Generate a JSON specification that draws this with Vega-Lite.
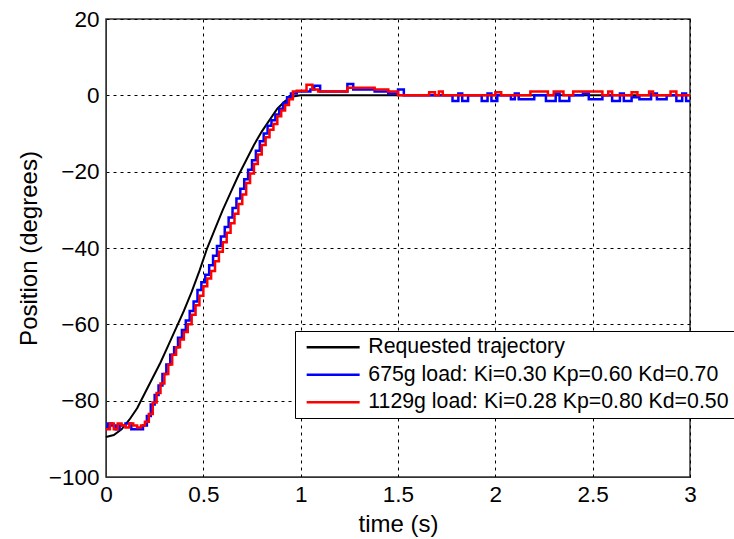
{
  "$schema": "https://vega.github.io/schema/vega-lite/v6.json",
  "width": 584,
  "height": 458,
  "autosize": {"type": "none"},
  "padding": {"left": 106, "top": 19, "right": 44, "bottom": 62},
  "background": "white",
  "config": {
    "font": "Liberation Sans",
    "view": {"stroke": "#333333", "strokeWidth": 1.5},
    "axis": {
      "labelFont": "Liberation Sans",
      "titleFont": "Liberation Sans",
      "labelFontSize": 22.5,
      "titleFontSize": 24,
      "labelColor": "#000000",
      "titleColor": "#000000",
      "titleFontWeight": "normal",
      "grid": true,
      "gridColor": "#000000",
      "gridDash": [3, 4],
      "gridOpacity": 1,
      "gridWidth": 1,
      "domainColor": "#333333",
      "tickColor": "#333333",
      "tickSize": 0
    }
  },
  "data": {
    "values": [
      {"t": 0, "v": -89.5, "s": "Requested trajectory"},
      {"t": 0.04, "v": -89, "s": "Requested trajectory"},
      {"t": 0.08, "v": -87.5, "s": "Requested trajectory"},
      {"t": 0.12, "v": -85, "s": "Requested trajectory"},
      {"t": 0.16, "v": -82, "s": "Requested trajectory"},
      {"t": 0.2, "v": -78, "s": "Requested trajectory"},
      {"t": 0.24, "v": -74, "s": "Requested trajectory"},
      {"t": 0.28, "v": -70, "s": "Requested trajectory"},
      {"t": 0.32, "v": -65.5, "s": "Requested trajectory"},
      {"t": 0.36, "v": -61, "s": "Requested trajectory"},
      {"t": 0.4, "v": -56.5, "s": "Requested trajectory"},
      {"t": 0.44, "v": -51.5, "s": "Requested trajectory"},
      {"t": 0.48, "v": -46, "s": "Requested trajectory"},
      {"t": 0.52, "v": -40, "s": "Requested trajectory"},
      {"t": 0.56, "v": -35, "s": "Requested trajectory"},
      {"t": 0.6, "v": -30, "s": "Requested trajectory"},
      {"t": 0.64, "v": -25.5, "s": "Requested trajectory"},
      {"t": 0.68, "v": -21, "s": "Requested trajectory"},
      {"t": 0.72, "v": -17, "s": "Requested trajectory"},
      {"t": 0.76, "v": -13, "s": "Requested trajectory"},
      {"t": 0.8, "v": -9.5, "s": "Requested trajectory"},
      {"t": 0.84, "v": -6.5, "s": "Requested trajectory"},
      {"t": 0.88, "v": -3.5, "s": "Requested trajectory"},
      {"t": 0.92, "v": -1.5, "s": "Requested trajectory"},
      {"t": 0.96, "v": -0.3, "s": "Requested trajectory"},
      {"t": 1.0, "v": 0, "s": "Requested trajectory"},
      {"t": 3.0, "v": 0, "s": "Requested trajectory"},

      {"t": 0, "v": -87, "s": " 675g load: Ki=0.30 Kp=0.60 Kd=0.70"},
      {"t": 0.01, "v": -86, "s": " 675g load: Ki=0.30 Kp=0.60 Kd=0.70"},
      {"t": 0.03, "v": -86.5, "s": " 675g load: Ki=0.30 Kp=0.60 Kd=0.70"},
      {"t": 0.05, "v": -87.5, "s": " 675g load: Ki=0.30 Kp=0.60 Kd=0.70"},
      {"t": 0.07, "v": -86.5, "s": " 675g load: Ki=0.30 Kp=0.60 Kd=0.70"},
      {"t": 0.1, "v": -86, "s": " 675g load: Ki=0.30 Kp=0.60 Kd=0.70"},
      {"t": 0.13, "v": -87.5, "s": " 675g load: Ki=0.30 Kp=0.60 Kd=0.70"},
      {"t": 0.16, "v": -87.5, "s": " 675g load: Ki=0.30 Kp=0.60 Kd=0.70"},
      {"t": 0.19, "v": -86.5, "s": " 675g load: Ki=0.30 Kp=0.60 Kd=0.70"},
      {"t": 0.21, "v": -84, "s": " 675g load: Ki=0.30 Kp=0.60 Kd=0.70"},
      {"t": 0.23, "v": -81, "s": " 675g load: Ki=0.30 Kp=0.60 Kd=0.70"},
      {"t": 0.25, "v": -78.5, "s": " 675g load: Ki=0.30 Kp=0.60 Kd=0.70"},
      {"t": 0.27, "v": -76, "s": " 675g load: Ki=0.30 Kp=0.60 Kd=0.70"},
      {"t": 0.29, "v": -73, "s": " 675g load: Ki=0.30 Kp=0.60 Kd=0.70"},
      {"t": 0.31, "v": -70.5, "s": " 675g load: Ki=0.30 Kp=0.60 Kd=0.70"},
      {"t": 0.33, "v": -68, "s": " 675g load: Ki=0.30 Kp=0.60 Kd=0.70"},
      {"t": 0.35, "v": -66, "s": " 675g load: Ki=0.30 Kp=0.60 Kd=0.70"},
      {"t": 0.37, "v": -63.5, "s": " 675g load: Ki=0.30 Kp=0.60 Kd=0.70"},
      {"t": 0.39, "v": -61.5, "s": " 675g load: Ki=0.30 Kp=0.60 Kd=0.70"},
      {"t": 0.41, "v": -59, "s": " 675g load: Ki=0.30 Kp=0.60 Kd=0.70"},
      {"t": 0.43, "v": -56.5, "s": " 675g load: Ki=0.30 Kp=0.60 Kd=0.70"},
      {"t": 0.45, "v": -54, "s": " 675g load: Ki=0.30 Kp=0.60 Kd=0.70"},
      {"t": 0.47, "v": -51, "s": " 675g load: Ki=0.30 Kp=0.60 Kd=0.70"},
      {"t": 0.49, "v": -49, "s": " 675g load: Ki=0.30 Kp=0.60 Kd=0.70"},
      {"t": 0.51, "v": -47, "s": " 675g load: Ki=0.30 Kp=0.60 Kd=0.70"},
      {"t": 0.53, "v": -44.5, "s": " 675g load: Ki=0.30 Kp=0.60 Kd=0.70"},
      {"t": 0.55, "v": -42, "s": " 675g load: Ki=0.30 Kp=0.60 Kd=0.70"},
      {"t": 0.57, "v": -39.5, "s": " 675g load: Ki=0.30 Kp=0.60 Kd=0.70"},
      {"t": 0.59, "v": -37, "s": " 675g load: Ki=0.30 Kp=0.60 Kd=0.70"},
      {"t": 0.61, "v": -34.5, "s": " 675g load: Ki=0.30 Kp=0.60 Kd=0.70"},
      {"t": 0.63, "v": -32, "s": " 675g load: Ki=0.30 Kp=0.60 Kd=0.70"},
      {"t": 0.65, "v": -29.5, "s": " 675g load: Ki=0.30 Kp=0.60 Kd=0.70"},
      {"t": 0.67, "v": -27, "s": " 675g load: Ki=0.30 Kp=0.60 Kd=0.70"},
      {"t": 0.69, "v": -24.5, "s": " 675g load: Ki=0.30 Kp=0.60 Kd=0.70"},
      {"t": 0.71, "v": -22, "s": " 675g load: Ki=0.30 Kp=0.60 Kd=0.70"},
      {"t": 0.73, "v": -19.5, "s": " 675g load: Ki=0.30 Kp=0.60 Kd=0.70"},
      {"t": 0.75, "v": -17, "s": " 675g load: Ki=0.30 Kp=0.60 Kd=0.70"},
      {"t": 0.77, "v": -14.5, "s": " 675g load: Ki=0.30 Kp=0.60 Kd=0.70"},
      {"t": 0.79, "v": -12, "s": " 675g load: Ki=0.30 Kp=0.60 Kd=0.70"},
      {"t": 0.81, "v": -10, "s": " 675g load: Ki=0.30 Kp=0.60 Kd=0.70"},
      {"t": 0.83, "v": -8, "s": " 675g load: Ki=0.30 Kp=0.60 Kd=0.70"},
      {"t": 0.85, "v": -6.5, "s": " 675g load: Ki=0.30 Kp=0.60 Kd=0.70"},
      {"t": 0.87, "v": -5, "s": " 675g load: Ki=0.30 Kp=0.60 Kd=0.70"},
      {"t": 0.89, "v": -3.5, "s": " 675g load: Ki=0.30 Kp=0.60 Kd=0.70"},
      {"t": 0.91, "v": -2, "s": " 675g load: Ki=0.30 Kp=0.60 Kd=0.70"},
      {"t": 0.93, "v": -0.5, "s": " 675g load: Ki=0.30 Kp=0.60 Kd=0.70"},
      {"t": 0.95, "v": 0.5, "s": " 675g load: Ki=0.30 Kp=0.60 Kd=0.70"},
      {"t": 0.98, "v": 1, "s": " 675g load: Ki=0.30 Kp=0.60 Kd=0.70"},
      {"t": 1.05, "v": 1.5, "s": " 675g load: Ki=0.30 Kp=0.60 Kd=0.70"},
      {"t": 1.07, "v": 2.5, "s": " 675g load: Ki=0.30 Kp=0.60 Kd=0.70"},
      {"t": 1.1, "v": 1, "s": " 675g load: Ki=0.30 Kp=0.60 Kd=0.70"},
      {"t": 1.24, "v": 3, "s": " 675g load: Ki=0.30 Kp=0.60 Kd=0.70"},
      {"t": 1.27, "v": 1.5, "s": " 675g load: Ki=0.30 Kp=0.60 Kd=0.70"},
      {"t": 1.38, "v": 1, "s": " 675g load: Ki=0.30 Kp=0.60 Kd=0.70"},
      {"t": 1.45, "v": 0.5, "s": " 675g load: Ki=0.30 Kp=0.60 Kd=0.70"},
      {"t": 1.5, "v": 1.5, "s": " 675g load: Ki=0.30 Kp=0.60 Kd=0.70"},
      {"t": 1.53, "v": 0, "s": " 675g load: Ki=0.30 Kp=0.60 Kd=0.70"},
      {"t": 1.78, "v": -1.5, "s": " 675g load: Ki=0.30 Kp=0.60 Kd=0.70"},
      {"t": 1.81, "v": 0.5, "s": " 675g load: Ki=0.30 Kp=0.60 Kd=0.70"},
      {"t": 1.83, "v": -1.5, "s": " 675g load: Ki=0.30 Kp=0.60 Kd=0.70"},
      {"t": 1.86, "v": 0, "s": " 675g load: Ki=0.30 Kp=0.60 Kd=0.70"},
      {"t": 1.93, "v": -1.5, "s": " 675g load: Ki=0.30 Kp=0.60 Kd=0.70"},
      {"t": 1.96, "v": 0.5, "s": " 675g load: Ki=0.30 Kp=0.60 Kd=0.70"},
      {"t": 1.98, "v": -1.5, "s": " 675g load: Ki=0.30 Kp=0.60 Kd=0.70"},
      {"t": 2.01, "v": 0, "s": " 675g load: Ki=0.30 Kp=0.60 Kd=0.70"},
      {"t": 2.08, "v": -1, "s": " 675g load: Ki=0.30 Kp=0.60 Kd=0.70"},
      {"t": 2.1, "v": 0.5, "s": " 675g load: Ki=0.30 Kp=0.60 Kd=0.70"},
      {"t": 2.12, "v": -1, "s": " 675g load: Ki=0.30 Kp=0.60 Kd=0.70"},
      {"t": 2.2, "v": 0, "s": " 675g load: Ki=0.30 Kp=0.60 Kd=0.70"},
      {"t": 2.26, "v": -1.5, "s": " 675g load: Ki=0.30 Kp=0.60 Kd=0.70"},
      {"t": 2.31, "v": 0.5, "s": " 675g load: Ki=0.30 Kp=0.60 Kd=0.70"},
      {"t": 2.33, "v": -1.5, "s": " 675g load: Ki=0.30 Kp=0.60 Kd=0.70"},
      {"t": 2.38, "v": 0, "s": " 675g load: Ki=0.30 Kp=0.60 Kd=0.70"},
      {"t": 2.45, "v": 0.5, "s": " 675g load: Ki=0.30 Kp=0.60 Kd=0.70"},
      {"t": 2.48, "v": -1, "s": " 675g load: Ki=0.30 Kp=0.60 Kd=0.70"},
      {"t": 2.55, "v": 0, "s": " 675g load: Ki=0.30 Kp=0.60 Kd=0.70"},
      {"t": 2.6, "v": -1.5, "s": " 675g load: Ki=0.30 Kp=0.60 Kd=0.70"},
      {"t": 2.64, "v": 0.5, "s": " 675g load: Ki=0.30 Kp=0.60 Kd=0.70"},
      {"t": 2.66, "v": -1.5, "s": " 675g load: Ki=0.30 Kp=0.60 Kd=0.70"},
      {"t": 2.7, "v": -0.5, "s": " 675g load: Ki=0.30 Kp=0.60 Kd=0.70"},
      {"t": 2.74, "v": -1, "s": " 675g load: Ki=0.30 Kp=0.60 Kd=0.70"},
      {"t": 2.8, "v": 0.5, "s": " 675g load: Ki=0.30 Kp=0.60 Kd=0.70"},
      {"t": 2.83, "v": -1, "s": " 675g load: Ki=0.30 Kp=0.60 Kd=0.70"},
      {"t": 2.88, "v": 0, "s": " 675g load: Ki=0.30 Kp=0.60 Kd=0.70"},
      {"t": 2.93, "v": -1.5, "s": " 675g load: Ki=0.30 Kp=0.60 Kd=0.70"},
      {"t": 2.96, "v": 0.5, "s": " 675g load: Ki=0.30 Kp=0.60 Kd=0.70"},
      {"t": 2.98, "v": -1.5, "s": " 675g load: Ki=0.30 Kp=0.60 Kd=0.70"},
      {"t": 3.0, "v": -1.5, "s": " 675g load: Ki=0.30 Kp=0.60 Kd=0.70"},

      {"t": 0, "v": -87.5, "s": "1129g load: Ki=0.28 Kp=0.80 Kd=0.50"},
      {"t": 0.02, "v": -86, "s": "1129g load: Ki=0.28 Kp=0.80 Kd=0.50"},
      {"t": 0.04, "v": -87.5, "s": "1129g load: Ki=0.28 Kp=0.80 Kd=0.50"},
      {"t": 0.06, "v": -86, "s": "1129g load: Ki=0.28 Kp=0.80 Kd=0.50"},
      {"t": 0.08, "v": -86.5, "s": "1129g load: Ki=0.28 Kp=0.80 Kd=0.50"},
      {"t": 0.1, "v": -87, "s": "1129g load: Ki=0.28 Kp=0.80 Kd=0.50"},
      {"t": 0.12, "v": -86, "s": "1129g load: Ki=0.28 Kp=0.80 Kd=0.50"},
      {"t": 0.14, "v": -86.5, "s": "1129g load: Ki=0.28 Kp=0.80 Kd=0.50"},
      {"t": 0.16, "v": -87, "s": "1129g load: Ki=0.28 Kp=0.80 Kd=0.50"},
      {"t": 0.18, "v": -86.5, "s": "1129g load: Ki=0.28 Kp=0.80 Kd=0.50"},
      {"t": 0.2, "v": -85.5, "s": "1129g load: Ki=0.28 Kp=0.80 Kd=0.50"},
      {"t": 0.22, "v": -83.5, "s": "1129g load: Ki=0.28 Kp=0.80 Kd=0.50"},
      {"t": 0.24, "v": -80.5, "s": "1129g load: Ki=0.28 Kp=0.80 Kd=0.50"},
      {"t": 0.26, "v": -78, "s": "1129g load: Ki=0.28 Kp=0.80 Kd=0.50"},
      {"t": 0.28, "v": -75.5, "s": "1129g load: Ki=0.28 Kp=0.80 Kd=0.50"},
      {"t": 0.3, "v": -73, "s": "1129g load: Ki=0.28 Kp=0.80 Kd=0.50"},
      {"t": 0.32, "v": -70.5, "s": "1129g load: Ki=0.28 Kp=0.80 Kd=0.50"},
      {"t": 0.34, "v": -68, "s": "1129g load: Ki=0.28 Kp=0.80 Kd=0.50"},
      {"t": 0.36, "v": -66, "s": "1129g load: Ki=0.28 Kp=0.80 Kd=0.50"},
      {"t": 0.38, "v": -64, "s": "1129g load: Ki=0.28 Kp=0.80 Kd=0.50"},
      {"t": 0.4, "v": -62, "s": "1129g load: Ki=0.28 Kp=0.80 Kd=0.50"},
      {"t": 0.42, "v": -60, "s": "1129g load: Ki=0.28 Kp=0.80 Kd=0.50"},
      {"t": 0.44, "v": -57.5, "s": "1129g load: Ki=0.28 Kp=0.80 Kd=0.50"},
      {"t": 0.46, "v": -55, "s": "1129g load: Ki=0.28 Kp=0.80 Kd=0.50"},
      {"t": 0.48, "v": -52.5, "s": "1129g load: Ki=0.28 Kp=0.80 Kd=0.50"},
      {"t": 0.5, "v": -50, "s": "1129g load: Ki=0.28 Kp=0.80 Kd=0.50"},
      {"t": 0.52, "v": -48, "s": "1129g load: Ki=0.28 Kp=0.80 Kd=0.50"},
      {"t": 0.54, "v": -46, "s": "1129g load: Ki=0.28 Kp=0.80 Kd=0.50"},
      {"t": 0.56, "v": -43.5, "s": "1129g load: Ki=0.28 Kp=0.80 Kd=0.50"},
      {"t": 0.58, "v": -41, "s": "1129g load: Ki=0.28 Kp=0.80 Kd=0.50"},
      {"t": 0.6, "v": -38.5, "s": "1129g load: Ki=0.28 Kp=0.80 Kd=0.50"},
      {"t": 0.62, "v": -36, "s": "1129g load: Ki=0.28 Kp=0.80 Kd=0.50"},
      {"t": 0.64, "v": -33.5, "s": "1129g load: Ki=0.28 Kp=0.80 Kd=0.50"},
      {"t": 0.66, "v": -31, "s": "1129g load: Ki=0.28 Kp=0.80 Kd=0.50"},
      {"t": 0.68, "v": -28.5, "s": "1129g load: Ki=0.28 Kp=0.80 Kd=0.50"},
      {"t": 0.7, "v": -26, "s": "1129g load: Ki=0.28 Kp=0.80 Kd=0.50"},
      {"t": 0.72, "v": -23, "s": "1129g load: Ki=0.28 Kp=0.80 Kd=0.50"},
      {"t": 0.74, "v": -20.5, "s": "1129g load: Ki=0.28 Kp=0.80 Kd=0.50"},
      {"t": 0.76, "v": -18, "s": "1129g load: Ki=0.28 Kp=0.80 Kd=0.50"},
      {"t": 0.78, "v": -15.5, "s": "1129g load: Ki=0.28 Kp=0.80 Kd=0.50"},
      {"t": 0.8, "v": -13, "s": "1129g load: Ki=0.28 Kp=0.80 Kd=0.50"},
      {"t": 0.82, "v": -11, "s": "1129g load: Ki=0.28 Kp=0.80 Kd=0.50"},
      {"t": 0.84, "v": -9, "s": "1129g load: Ki=0.28 Kp=0.80 Kd=0.50"},
      {"t": 0.86, "v": -7.5, "s": "1129g load: Ki=0.28 Kp=0.80 Kd=0.50"},
      {"t": 0.88, "v": -5.5, "s": "1129g load: Ki=0.28 Kp=0.80 Kd=0.50"},
      {"t": 0.9, "v": -4, "s": "1129g load: Ki=0.28 Kp=0.80 Kd=0.50"},
      {"t": 0.92, "v": -2.5, "s": "1129g load: Ki=0.28 Kp=0.80 Kd=0.50"},
      {"t": 0.94, "v": -1, "s": "1129g load: Ki=0.28 Kp=0.80 Kd=0.50"},
      {"t": 0.96, "v": 1, "s": "1129g load: Ki=0.28 Kp=0.80 Kd=0.50"},
      {"t": 0.98, "v": 1.2, "s": "1129g load: Ki=0.28 Kp=0.80 Kd=0.50"},
      {"t": 1.03, "v": 2.8, "s": "1129g load: Ki=0.28 Kp=0.80 Kd=0.50"},
      {"t": 1.06, "v": 1.5, "s": "1129g load: Ki=0.28 Kp=0.80 Kd=0.50"},
      {"t": 1.09, "v": 1, "s": "1129g load: Ki=0.28 Kp=0.80 Kd=0.50"},
      {"t": 1.24, "v": 2, "s": "1129g load: Ki=0.28 Kp=0.80 Kd=0.50"},
      {"t": 1.38, "v": 1.5, "s": "1129g load: Ki=0.28 Kp=0.80 Kd=0.50"},
      {"t": 1.45, "v": 1, "s": "1129g load: Ki=0.28 Kp=0.80 Kd=0.50"},
      {"t": 1.5, "v": 0, "s": "1129g load: Ki=0.28 Kp=0.80 Kd=0.50"},
      {"t": 1.66, "v": 0.8, "s": "1129g load: Ki=0.28 Kp=0.80 Kd=0.50"},
      {"t": 1.69, "v": 0, "s": "1129g load: Ki=0.28 Kp=0.80 Kd=0.50"},
      {"t": 1.71, "v": 1, "s": "1129g load: Ki=0.28 Kp=0.80 Kd=0.50"},
      {"t": 1.73, "v": 0, "s": "1129g load: Ki=0.28 Kp=0.80 Kd=0.50"},
      {"t": 2.0, "v": 0.8, "s": "1129g load: Ki=0.28 Kp=0.80 Kd=0.50"},
      {"t": 2.03, "v": 0, "s": "1129g load: Ki=0.28 Kp=0.80 Kd=0.50"},
      {"t": 2.18, "v": 1, "s": "1129g load: Ki=0.28 Kp=0.80 Kd=0.50"},
      {"t": 2.27, "v": 0, "s": "1129g load: Ki=0.28 Kp=0.80 Kd=0.50"},
      {"t": 2.3, "v": 1, "s": "1129g load: Ki=0.28 Kp=0.80 Kd=0.50"},
      {"t": 2.35, "v": 0, "s": "1129g load: Ki=0.28 Kp=0.80 Kd=0.50"},
      {"t": 2.4, "v": 1, "s": "1129g load: Ki=0.28 Kp=0.80 Kd=0.50"},
      {"t": 2.55, "v": 0, "s": "1129g load: Ki=0.28 Kp=0.80 Kd=0.50"},
      {"t": 2.58, "v": 1, "s": "1129g load: Ki=0.28 Kp=0.80 Kd=0.50"},
      {"t": 2.6, "v": 0, "s": "1129g load: Ki=0.28 Kp=0.80 Kd=0.50"},
      {"t": 2.7, "v": 0.8, "s": "1129g load: Ki=0.28 Kp=0.80 Kd=0.50"},
      {"t": 2.73, "v": 0, "s": "1129g load: Ki=0.28 Kp=0.80 Kd=0.50"},
      {"t": 2.79, "v": 1, "s": "1129g load: Ki=0.28 Kp=0.80 Kd=0.50"},
      {"t": 2.81, "v": 0, "s": "1129g load: Ki=0.28 Kp=0.80 Kd=0.50"},
      {"t": 2.9, "v": 1, "s": "1129g load: Ki=0.28 Kp=0.80 Kd=0.50"},
      {"t": 2.93, "v": 0, "s": "1129g load: Ki=0.28 Kp=0.80 Kd=0.50"},
      {"t": 3.0, "v": 0, "s": "1129g load: Ki=0.28 Kp=0.80 Kd=0.50"}
    ]
  },
  "encoding": {
    "x": {
      "field": "t",
      "type": "quantitative",
      "scale": {"domain": [0, 3], "nice": false, "zero": false},
      "axis": {"title": "time (s)", "values": [0, 0.5, 1, 1.5, 2, 2.5, 3], "format": "~g", "labelPadding": 6, "titlePadding": 7, "labelFlush": false}
    },
    "y": {
      "field": "v",
      "type": "quantitative",
      "scale": {"domain": [-100, 20], "nice": false, "zero": false},
      "axis": {"title": "Position (degrees)", "values": [-100, -80, -60, -40, -20, 0, 20], "labelPadding": 7, "titlePadding": 7, "labelFlush": false}
    },
    "color": {
      "field": "s",
      "type": "nominal",
      "scale": {
        "domain": ["Requested trajectory", " 675g load: Ki=0.30 Kp=0.60 Kd=0.70", "1129g load: Ki=0.28 Kp=0.80 Kd=0.50"],
        "range": ["#000000", "#0000ff", "#ff0000"]
      },
      "legend": {
        "title": null,
        "orient": "none",
        "legendX": 189,
        "legendY": 312,
        "direction": "vertical",
        "symbolType": "M-3,0H3",
        "symbolSize": 312,
        "symbolStrokeWidth": 2.5,
        "symbolOffset": 22,
        "labelFont": "Liberation Sans",
        "labelFontSize": 21.3,
        "labelColor": "#000000",
        "labelLimit": 600,
        "labelOffset": 24.5,
        "strokeColor": "#000000",
        "fillColor": "#ffffff",
        "padding": 5.5,
        "rowPadding": 5.5
      }
    }
  },
  "layer": [
    {
      "transform": [{"filter": "datum.s === 'Requested trajectory'"}],
      "mark": {"type": "line", "strokeWidth": 2, "interpolate": "linear"}
    },
    {
      "transform": [{"filter": "datum.s !== 'Requested trajectory'"}],
      "mark": {"type": "line", "strokeWidth": 2.5, "interpolate": "step-after"}
    }
  ]
}
